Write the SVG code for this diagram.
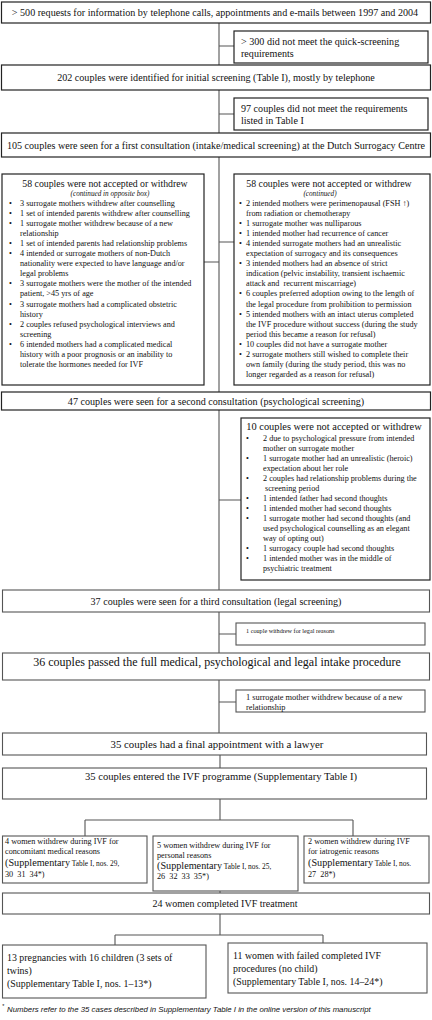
<svg xmlns="http://www.w3.org/2000/svg" width="432" height="1020" viewBox="0 0 432 1020">
<style>
.bk{fill:#fff;stroke:#222;stroke-width:1.2}
.gy{fill:#fff;stroke:#555;stroke-width:1.1}
.ln{fill:none;stroke:#555;stroke-width:1.1}
text{font-family:"Liberation Serif","Times New Roman",serif;fill:#111}
.m{font-size:10.1px}
.c{text-anchor:middle}
.s{font-size:8.2px}
.it{font-style:italic;font-size:7.2px}
.pre{white-space:pre}
.big{font-size:10.4px}
.h{font-size:9.8px}
.fn{font-family:"Liberation Sans",Arial,sans-serif;font-style:italic;font-size:7.8px}
</style>
<rect width="432" height="1020" fill="#fff"/>
<g id="connectors">
<path class="ln" d="M219 23V392 M219 46H234 M219 114H234 M204 262H219 M219 242H234 M219 410V590 M219 500H241 M219 612V653 M219 634H236 M219 680V733 M219 702H236 M220 755V768 M220 799V820 M85 820H353 M85 820V836 M353 820V836 M220 891V893 M220 914V935 M115 935H323 M115 935V945 M323 935V943"/>
</g>
<g id="n1"><rect class="bk" x="1.5" y="2" width="429" height="21"/><text class="m c" x="215" y="15.5">&gt; 500 requests for information by telephone calls, appointments and e-mails between 1997 and 2004</text></g>
<g id="n2"><rect class="bk" x="234" y="31" width="194" height="32"/><text class="m" x="241" y="44.5">&gt; 300 did not meet the quick-screening</text><text class="m" x="241" y="57">requirements</text></g>
<g id="n3"><rect class="bk" x="1.5" y="65" width="429" height="25"/><text class="m c" x="216" y="80.5">202 couples were identified for initial screening (Table I), mostly by telephone</text></g>
<g id="n4"><rect class="bk" x="234" y="98" width="194" height="32"/><text class="m" x="241" y="111.5">97 couples did not meet the requirements</text><text class="m" x="241" y="124">listed in Table I</text></g>
<g id="n5"><rect class="bk" x="1.5" y="133" width="429" height="24"/><text class="m c" x="216" y="148.5">105 couples were seen for a first consultation (intake/medical screening) at the Dutch Surrogacy Centre</text></g>
<g id="n6"><rect class="bk" x="2" y="174" width="202" height="211"/>
<text class="h c" x="105" y="186.5">58 couples were not accepted or withdrew</text>
<text class="it c" x="110" y="195.5">(continued in opposite box)</text>
<g class="s">
<text x="9" y="205.5">•</text><text x="20" y="205.5">3 surrogate mothers withdrew after counselling</text>
<text x="9" y="215.6">•</text><text x="20" y="215.6">1 set of intended parents withdrew after counselling</text>
<text x="9" y="225.7">•</text><text x="20" y="225.7">1 surrogate mother withdrew because of a new</text>
<text x="20" y="235.8">relationship</text>
<text x="9" y="245.9">•</text><text x="20" y="245.9">1 set of intended parents had relationship problems</text>
<text x="9" y="256">•</text><text x="20" y="256">4 intended or surrogate mothers of non-Dutch</text>
<text x="20" y="266.1">nationality were expected to have language and/or</text>
<text x="20" y="276.2">legal problems</text>
<text x="9" y="286.3">•</text><text x="20" y="286.3">3 surrogate mothers were the mother of the intended</text>
<text x="20" y="296.4">patient, &gt;45 yrs of age</text>
<text x="9" y="306.5">•</text><text x="20" y="306.5">3 surrogate mothers had a complicated obstetric</text>
<text x="20" y="316.6">history</text>
<text x="9" y="326.7">•</text><text x="20" y="326.7">2 couples refused psychological interviews and</text>
<text x="20" y="336.8">screening</text>
<text x="9" y="346.9">•</text><text x="20" y="346.9">6 intended mothers had a complicated medical</text>
<text x="20" y="357">history with a poor prognosis or an inability to</text>
<text x="20" y="367.1">tolerate the hormones needed for IVF</text>
</g></g>
<g id="n7"><rect class="bk" x="234" y="174" width="196" height="211"/>
<text class="h c" x="329" y="186.5">58 couples were not accepted or withdrew</text>
<text class="it c" x="320" y="195.5">(continued)</text>
<g class="s">
<text x="239" y="205.5">•</text><text x="246" y="205.5">2 intended mothers were perimenopausal (FSH ↑)</text>
<text x="246" y="215.6">from radiation or chemotherapy</text>
<text x="239" y="225.7">•</text><text x="246" y="225.7">1 surrogate mother was nulliparous</text>
<text x="239" y="235.8">•</text><text x="246" y="235.8">1 intended mother had recurrence of cancer</text>
<text x="239" y="245.9">•</text><text x="246" y="245.9">4 intended surrogate mothers had an unrealistic</text>
<text x="246" y="256">expectation of surrogacy and its consequences</text>
<text x="239" y="266.1">•</text><text x="246" y="266.1">3 intended mothers had an absence of strict</text>
<text x="246" y="276.2">indication (pelvic instability, transient ischaemic</text>
<text class="pre" x="246" y="286.3">attack and  recurrent miscarriage)</text>
<text x="239" y="296.4">•</text><text x="246" y="296.4">6 couples preferred adoption owing to the length of</text>
<text x="246" y="306.5">the legal procedure from prohibition to permission</text>
<text x="239" y="316.6">•</text><text x="246" y="316.6">5 intended mothers with an intact uterus completed</text>
<text x="246" y="326.7">the IVF procedure without success (during the study</text>
<text x="246" y="336.8">period this became a reason for refusal)</text>
<text x="239" y="346.9">•</text><text x="246" y="346.9">10 couples did not have a surrogate mother</text>
<text x="239" y="357">•</text><text x="246" y="357">2 surrogate mothers still wished to complete their</text>
<text x="246" y="367.1">own family (during the study period, this was no</text>
<text x="246" y="377.2">longer regarded as a reason for refusal)</text>
</g></g>
<g id="n8"><rect class="bk" x="1.5" y="392" width="429" height="18"/><text class="m c" x="216" y="404.5">47 couples were seen for a second consultation (psychological screening)</text></g>
<g id="n9"><rect class="bk" x="241" y="418" width="189" height="162"/>
<text class="big c" x="334" y="429.5">10 couples were not accepted or withdrew</text>
<g class="s">
<text x="246" y="440.5">•</text><text x="263" y="440.5">2 due to psychological pressure from intended</text>
<text x="263" y="450.5">mother on surrogate mother</text>
<text x="246" y="460.5">•</text><text x="263" y="460.5">1 surrogate mother had an unrealistic (heroic)</text>
<text x="263" y="470.5">expectation about her role</text>
<text x="246" y="480.5">•</text><text x="263" y="480.5">2 couples had relationship problems during the</text>
<text x="265" y="490.5">screening period</text>
<text x="246" y="500.5">•</text><text x="263" y="500.5">1 intended father had second thoughts</text>
<text x="246" y="510.5">•</text><text x="263" y="510.5">1 intended mother had second thoughts</text>
<text x="246" y="520.5">•</text><text x="263" y="520.5">1 surrogate mother had second thoughts (and</text>
<text x="263" y="530.5">used psychological counselling as an elegant</text>
<text x="263" y="540.5">way of opting out)</text>
<text x="246" y="550.5">•</text><text x="263" y="550.5">1 surrogacy couple had second thoughts</text>
<text x="246" y="560.5">•</text><text x="263" y="560.5">1 intended mother was in the middle of</text>
<text x="263" y="570.5">psychiatric treatment</text>
</g></g>
<g id="n10"><rect class="gy" x="2.5" y="590" width="427" height="22"/><text class="m c" x="216" y="604.5">37 couples were seen for a third consultation (legal screening)</text></g>
<g id="n11"><rect class="gy" x="236" y="623" width="189" height="22"/><text x="246" y="632.5" style="font-size:6.2px">1 couple withdrew for legal reasons</text></g>
<g id="n12"><rect class="gy" x="2.5" y="653" width="427" height="27"/><text class="c" x="217" y="666" style="font-size:12px">36 couples passed the full medical, psychological and legal intake procedure</text></g>
<g id="n13"><rect class="gy" x="236" y="690" width="189" height="22"/><text x="246" y="699.5" style="font-size:8.4px">1 surrogate mother withdrew because of a new</text><text x="246" y="709.5" style="font-size:8.4px">relationship</text></g>
<g id="n14"><rect class="gy" x="2.5" y="733" width="424" height="22"/><text class="c" x="217" y="747.5" style="font-size:10.8px">35 couples had a final appointment with a lawyer</text></g>
<g id="n15"><rect class="gy" x="2.5" y="768" width="424" height="31"/><text class="c" x="221" y="779.5" style="font-size:10.6px">35 couples entered the IVF programme (Supplementary Table I)</text></g>
<g id="n16"><rect class="gy" x="2.5" y="836" width="144.5" height="47"/>
<text class="s" x="5" y="843.5">4 women withdrew during IVF for</text>
<text class="s" x="5" y="853.5">concomitant medical reasons</text>
<text x="5" y="866"><tspan style="font-size:10.2px">(Supplementary</tspan><tspan style="font-size:7.4px"> Table I, nos. 29,</tspan></text>
<text class="s pre" x="5" y="877">30  31  34*)</text></g>
<g id="n17"><rect class="gy" x="153" y="836" width="145" height="55"/>
<text class="s" x="157" y="847.5">5 women withdrew during IVF for</text>
<text class="s" x="157" y="857.5">personal reasons</text>
<text x="157" y="869"><tspan style="font-size:10.2px">(Supplementary</tspan><tspan style="font-size:7.4px"> Table I, nos. 25,</tspan></text>
<text class="s pre" x="157" y="879">26  32  33  35*)</text></g>
<g id="n18"><rect class="gy" x="304" y="836" width="125" height="47"/>
<text class="s" x="308" y="843.5">2 women withdrew during IVF</text>
<text class="s" x="308" y="853.5">for iatrogenic reasons</text>
<text x="308" y="866"><tspan style="font-size:10.2px">(Supplementary</tspan><tspan style="font-size:7.4px"> Table I, nos.</tspan></text>
<text class="s pre" x="308" y="877">27  28*)</text></g>
<g id="n19"><rect class="gy" x="2.5" y="893" width="427" height="21"/><text class="c" x="225" y="906.5" style="font-size:10px">24 women completed IVF treatment</text></g>
<g id="n20"><rect class="gy" x="2.5" y="945" width="203.5" height="53"/>
<text x="7" y="961" style="font-size:9.9px">13 pregnancies with 16 children (3 sets of</text>
<text x="7" y="974" style="font-size:9.9px">twins)</text>
<text x="7" y="987" style="font-size:9.9px">(Supplementary Table I, nos. 1–13*)</text></g>
<g id="n21"><rect class="gy" x="228" y="943" width="199" height="50"/>
<text x="233" y="959" style="font-size:9.9px">11 women with failed completed IVF</text>
<text x="233" y="972" style="font-size:9.9px">procedures (no child)</text>
<text x="233" y="985" style="font-size:9.9px">(Supplementary Table I, nos. 14–24*)</text></g>
<g id="footnote"><text class="fn" x="2" y="1008" style="font-size:5.5px">*</text><text class="fn" x="7" y="1012">Numbers refer to the 35 cases described in Supplementary Table I in the online version of this manuscript</text></g>
</svg>
